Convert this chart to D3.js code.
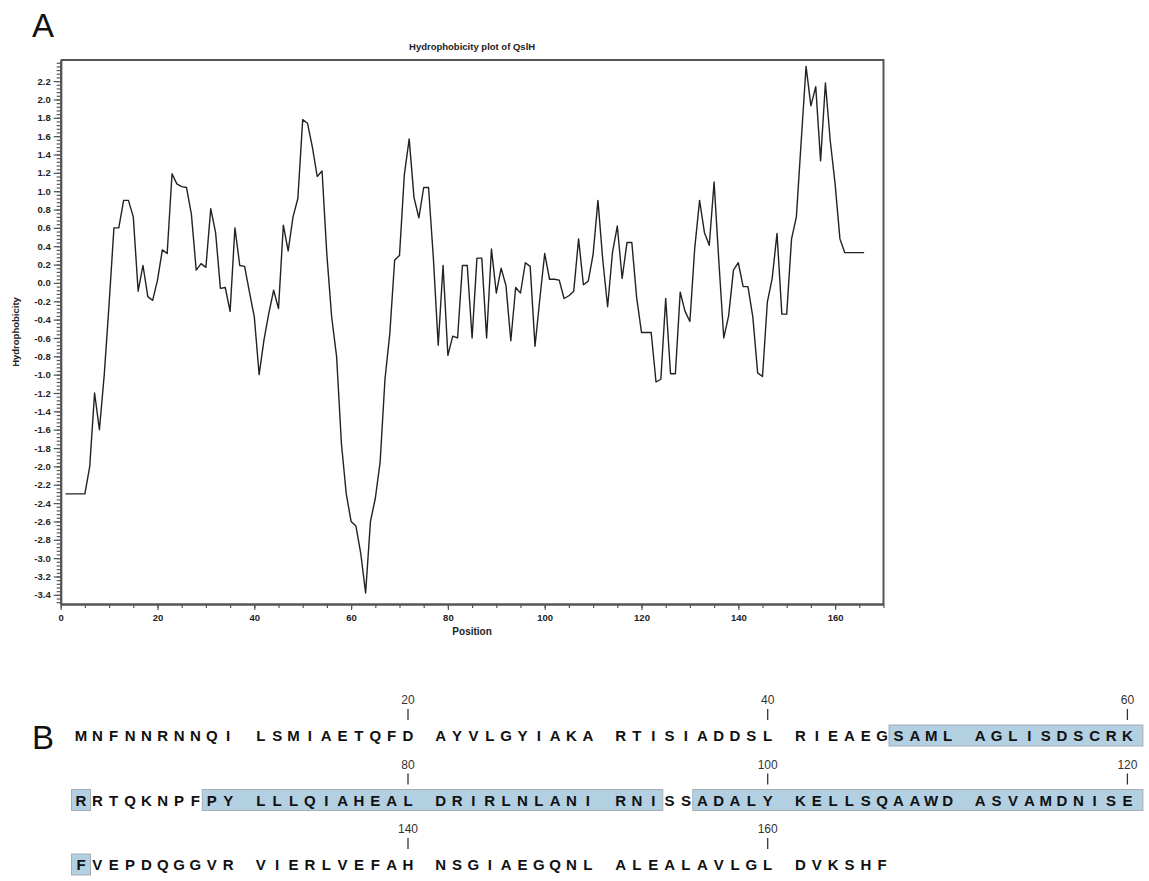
<!DOCTYPE html>
<html>
<head>
<meta charset="utf-8">
<script src="https://cdn.jsdelivr.net/npm/d3@7/dist/d3.min.js"></script>
<style>
  html, body { margin: 0; padding: 0; background: #fff; }
  svg { display: block; font-family: "Liberation Sans", Arial, sans-serif; }
</style>
</head>
<body>
<svg id="fig" width="1149" height="881"></svg>
<script>
// Kyte-Doolittle style hydrophobicity profile of QslH, one value per residue
const positions = d3.range(1, 167);
const hydrophobicity = [
  -2.30, -2.30, -2.30, -2.30, -2.30, -2.00, -1.20, -1.60, -1.00, -0.23,
   0.60,  0.60,  0.90,  0.90,  0.72, -0.09,  0.19, -0.15, -0.19,  0.03,
   0.36,  0.32,  1.19,  1.08,  1.05,  1.04,  0.75,  0.14,  0.21,  0.17,
   0.81,  0.55, -0.06, -0.05, -0.31,  0.60,  0.19,  0.18, -0.10, -0.37,
  -1.00, -0.62, -0.33, -0.08, -0.28,  0.63,  0.35,  0.72,  0.92,  1.78,
   1.74,  1.48,  1.16,  1.22,  0.30, -0.38, -0.80, -1.75, -2.30, -2.60,
  -2.65, -2.95, -3.38, -2.60, -2.35, -1.95, -1.05, -0.55,  0.25,  0.30,
   1.18,  1.57,  0.93,  0.71,  1.04,  1.04,  0.27, -0.68,  0.19, -0.79,
  -0.58, -0.60,  0.19,  0.19, -0.60,  0.27,  0.27, -0.60,  0.37, -0.11,
   0.16, -0.03, -0.63, -0.05, -0.11,  0.22,  0.18, -0.69, -0.17,  0.32,
   0.04,  0.04,  0.03, -0.17, -0.14, -0.09,  0.48, -0.02,  0.02,  0.31,
   0.90,  0.25, -0.26,  0.33,  0.62,  0.05,  0.44,  0.44, -0.16, -0.54,
  -0.54, -0.54, -1.08, -1.05, -0.17, -0.99, -0.99, -0.10, -0.31, -0.42,
   0.38,  0.90,  0.55,  0.41,  1.10,  0.22, -0.60, -0.36,  0.14,  0.22,
  -0.04, -0.04, -0.37, -0.98, -1.02, -0.21,  0.05,  0.54, -0.34, -0.34,
   0.48,  0.72,  1.55,  2.36,  1.93,  2.14,  1.33,  2.18,  1.55,  1.08,
   0.48,  0.33,  0.33,  0.33,  0.33,  0.33
];

// Axis ticks
const xMajorTicks = d3.range(0, 161, 20);
const xMinorTicks = d3.range(0, 171, 5);
const yMajorTicks = d3.range(-17, 12).map(k => k / 5);      // -3.4 .. 2.2
const yMinorTicks = d3.range(-87, 61).map(k => k * 0.04);   // -3.48 .. 2.40

// Protein sequence and highlighted stretches (residue ranges, inclusive)
const sequence = "MNFNNRNNQILSMIAETQFDAYVLGYIAKARTISIADDSLRIEAEGSAMLAGLISDSCRK" +
                 "RRTQKNPFPYLLLQIAHEALDRIRLNLANIRNISSADALYKELLSQAAWDASVAMDNISE" +
                 "FVEPDQGGVRVIERLVEFAHNSGIAEGQNLALEALAVLGLDVKSHF";
const highlightRanges = [[47, 61], [69, 93], [96, 121]];
const numberedPositions = d3.range(20, sequence.length + 1, 20);
const residuesPerRow = 60;

const svg = d3.select("#fig");

// ---------- Panel A: hydrophobicity plot ----------
const x = d3.scaleLinear().domain([0, 170]).range([60.7, 883.5]);
const y = d3.scaleLinear().domain([-3.5, 2.43]).range([604, 60]);

const axisColor = "#555";
const fmt = d => d.toFixed(1);

// frame (top and right edges)
svg.append("path")
  .attr("d", `M${x(0)},${y(2.43)}H${x(170)}V${y(-3.5)}`)
  .attr("fill", "none").attr("stroke", axisColor).attr("stroke-width", 2);

const xMinor = svg.append("g").attr("transform", `translate(0,${y(-3.5)})`)
  .call(d3.axisBottom(x).tickValues(xMinorTicks).tickSize(4).tickSizeOuter(0).tickFormat(""));
const xMajor = svg.append("g").attr("transform", `translate(0,${y(-3.5)})`)
  .call(d3.axisBottom(x).tickValues(xMajorTicks).tickSize(6).tickSizeOuter(0).tickPadding(4));
const yMinor = svg.append("g").attr("transform", `translate(${x(0)},0)`)
  .call(d3.axisLeft(y).tickValues(yMinorTicks).tickSize(4).tickSizeOuter(0).tickFormat(""));
const yMajor = svg.append("g").attr("transform", `translate(${x(0)},0)`)
  .call(d3.axisLeft(y).tickValues(yMajorTicks).tickSize(7).tickSizeOuter(0).tickPadding(3).tickFormat(fmt));

[xMinor, xMajor, yMinor, yMajor].forEach(g => {
  g.select(".domain").attr("stroke", axisColor).attr("stroke-width", 2);
  g.selectAll(".tick line").attr("stroke", axisColor).attr("stroke-width", 1.2);
  g.selectAll(".tick text")
    .attr("font-family", "'Liberation Sans', Arial, sans-serif")
    .attr("font-size", 9.5).attr("font-weight", "bold").attr("fill", "#222");
});

// profile line
const line = d3.line().x((d, i) => x(positions[i])).y(d => y(d));
svg.append("path")
  .datum(hydrophobicity)
  .attr("d", line)
  .attr("fill", "none")
  .attr("stroke", "#222")
  .attr("stroke-width", 1.4)
  .attr("stroke-linejoin", "round");

// titles
svg.append("text")
  .attr("x", (x(0) + x(170)) / 2).attr("y", 50)
  .attr("text-anchor", "middle").attr("font-size", 9.5).attr("font-weight", "bold").attr("fill", "#222")
  .text("Hydrophobicity plot of QslH");
svg.append("text")
  .attr("x", (x(0) + x(170)) / 2).attr("y", 635)
  .attr("text-anchor", "middle").attr("font-size", 10).attr("font-weight", "bold").attr("fill", "#222")
  .text("Position");
svg.append("text")
  .attr("transform", `translate(19,${(y(2.43) + y(-3.5)) / 2}) rotate(-90)`)
  .attr("text-anchor", "middle").attr("font-size", 9.5).attr("font-weight", "bold").attr("fill", "#222")
  .text("Hydrophobicity");

svg.append("text").attr("x", 32).attr("y", 37)
  .attr("font-size", 33).attr("fill", "#111").text("A");

// ---------- Panel B: annotated sequence ----------
svg.append("text").attr("x", 32).attr("y", 749)
  .attr("font-size", 33).attr("fill", "#111").text("B");

const rowY = d3.scaleLinear().domain([0, 1]).range([736, 800.5]);   // letter centre line per row
const slotX = d3.scaleLinear().domain([0, 1]).range([81, 97.35]);    // column slot -> px

const residues = sequence.split("").map((aa, i) => {
  const pos = i + 1;
  const row = Math.floor(i / residuesPerRow);
  const col = i % residuesPerRow;
  const slot = col + Math.floor(col / 10);
  return { aa, pos, row, col, cx: slotX(slot), cy: rowY(row) };
});
const byPos = new Map(residues.map(r => [r.pos, r]));

// split each highlight into per-row boxes
const boxes = [];
highlightRanges.forEach(([a, b]) => {
  let start = a;
  while (start <= b) {
    const r0 = byPos.get(start);
    const rowEnd = (r0.row + 1) * residuesPerRow;
    const end = Math.min(b, rowEnd);
    boxes.push({ from: r0, to: byPos.get(end), continues: end < b });
    start = end + 1;
  }
});

const gB = svg.append("g");
gB.selectAll("rect.hl").data(boxes).join("rect")
  .attr("class", "hl")
  .attr("x", d => d.from.cx - 9.5)
  .attr("y", d => d.from.cy - 11)
  .attr("width", d => d.to.cx - d.from.cx + 19 + (d.continues ? 6 : 0))
  .attr("height", 21)
  .attr("fill", "#b3cfe2")
  .attr("stroke", "#a5aeb5")
  .attr("stroke-width", 1);

gB.selectAll("text.aa").data(residues).join("text")
  .attr("class", "aa")
  .attr("x", d => d.cx).attr("y", d => d.cy)
  .attr("dy", "0.36em")
  .attr("text-anchor", "middle")
  .attr("font-size", 15).attr("font-weight", "bold").attr("fill", "#111")
  .text(d => d.aa);

const numbered = numberedPositions.map(p => byPos.get(p));
gB.selectAll("line.mark").data(numbered).join("line")
  .attr("class", "mark")
  .attr("x1", d => d.cx).attr("x2", d => d.cx)
  .attr("y1", d => d.cy - 27).attr("y2", d => d.cy - 16)
  .attr("stroke", "#333").attr("stroke-width", 1.3);
gB.selectAll("text.num").data(numbered).join("text")
  .attr("class", "num")
  .attr("x", d => d.cx).attr("y", d => d.cy - 36)
  .attr("dy", "0.36em")
  .attr("text-anchor", "middle")
  .attr("font-size", 12).attr("fill", "#333")
  .text(d => d.pos);
</script>
</body>
</html>
